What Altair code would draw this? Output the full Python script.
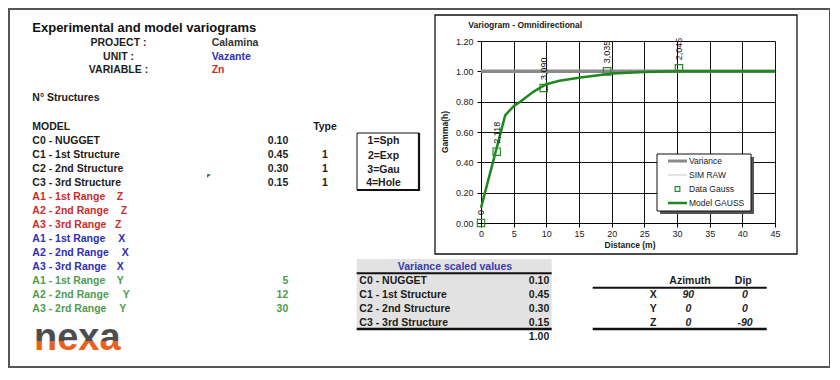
import altair as alt
import pandas as pd

FONT = "Liberation Sans"
OX, OY = 481, 41  # page position of the variogram plot area's top-left corner

# ---------------- variogram data ----------------
lag_m = [0.0, 2.4, 9.6, 19.3, 30.3]
gamma_exp = [0.00, 0.47, 0.89, 1.00, 1.02]
pair_counts = ["0", "2,118", "3,090", "3,035", "2,045"]

model_lag = [0, 3.7, 5, 6, 8, 10, 12, 15, 20, 25, 30, 45]
model_gamma = [0.10, 0.71, 0.77, 0.80, 0.865, 0.915, 0.938, 0.958, 0.985, 0.996, 1.00, 1.00]

variance_sill = 1.00
variance_span = [0, 45]

x_ticks = [0, 5, 10, 15, 20, 25, 30, 35, 40, 45]
y_ticks = [0.0, 0.2, 0.4, 0.6, 0.8, 1.0, 1.2]

chart_title = "Variogram - Omnidirectional"
x_title = "Distance (m)"
y_title = "Gamma(h)"
legend_items = ["Variance", "SIM RAW", "Data Gauss", "Model GAUSS"]

# ---------------- sheet content ----------------
sheet_title = "Experimental and model variograms"
meta_labels = ["PROJECT :", "UNIT :", "VARIABLE :"]
meta_values = ["Calamina", "Vazante", "Zn"]
structures_label = "N° Structures"
model_header = "MODEL"
type_header = "Type"
model_rows = ["C0 - NUGGET", "C1 - 1st Structure", "C2 - 2nd Structure", "C3 - 3rd Structure"]
sills = ["0.10", "0.45", "0.30", "0.15"]
types = ["", "1", "1", "1"]
range_labels = ["A1 - 1st Range", "A2 - 2nd Range", "A3 - 3rd Range",
                "A1 - 1st Range", "A2 - 2nd Range", "A3 - 3rd Range",
                "A1 - 1st Range", "A2 - 2nd Range", "A3 - 2rd Range"]
range_axes = ["Z", "Z", "Z", "X", "X", "X", "Y", "Y", "Y"]
range_values = ["", "", "", "", "", "", "5", "12", "30"]
type_legend = ["1=Sph", "2=Exp", "3=Gau", "4=Hole"]
scaled_header = "Variance scaled values"
scaled_values = ["0.10", "0.45", "0.30", "0.15"]
scaled_total = "1.00"
orient_header = ["Azimuth", "Dip"]
orient_axes = ["X", "Y", "Z"]
azimuths = ["90", "0", "0"]
dips = ["0", "0", "-90"]
logo_text = "nexa"

# ---------------- styles / layout ----------------
DARK = "#1c1c1c"
RED = "#cf2b2b"
BLUE = "#2e2eb8"
GREEN = "#4e9c4e"
AXIS_COLOR = {"Z": RED, "X": BLUE, "Y": GREEN}
ROW_Y = [127 + 14 * i for i in range(14)]
LEFT_X = 32.3
AXIS_LETTER_X = [116.7, 120.7, 115.0, 118.3, 121.7, 116.7, 116.7, 122.7, 119.3]
TXT = 10.5


def pix(rows):
    df = pd.DataFrame(rows)
    for c in ["x", "x2"]:
        if c in df:
            df[c] = df[c] - OX
    for c in ["y", "y2"]:
        if c in df:
            df[c] = df[c] - OY
    return df


def text_layer(rows, align="left", weight="bold", style="normal", angle=0, baseline="middle"):
    df = pix(rows)
    return alt.Chart(df).mark_text(
        align=align, baseline=baseline, fontWeight=weight, fontStyle=style,
        font=FONT, angle=angle
    ).encode(
        x=alt.X("x:Q", scale=None, axis=None),
        y=alt.Y("y:Q", scale=None, axis=None),
        text="t:N",
        color=alt.Color("c:N", scale=None, legend=None),
        size=alt.Size("s:Q", scale=None, legend=None),
    )


def rect_layer(rows, fill="none", stroke=None, sw=1, opacity=1):
    df = pix(rows)
    kw = dict(fill=fill, strokeWidth=sw, fillOpacity=opacity)
    if stroke:
        kw["stroke"] = stroke
    return alt.Chart(df).mark_rect(**kw).encode(
        x=alt.X("x:Q", scale=None, axis=None),
        x2="x2:Q",
        y=alt.Y("y:Q", scale=None, axis=None),
        y2="y2:Q",
    )


def seg_layer(rows, color, sw):
    df = pix(rows)
    return alt.Chart(df).mark_rule(color=color, strokeWidth=sw).encode(
        x=alt.X("x:Q", scale=None, axis=None),
        x2="x2:Q",
        y=alt.Y("y:Q", scale=None, axis=None),
        y2="y2:Q",
    )


layers = []

# frames and boxes
layers.append(rect_layer([{"x": 9, "x2": 830, "y": 9, "y2": 367}], stroke="#555", sw=2))
layers.append(rect_layer([{"x": 435, "x2": 797, "y": 15, "y2": 254}], stroke="#111", sw=1.3))
layers.append(rect_layer([{"x": 356.7, "x2": 551.7, "y": 259, "y2": 329}], fill="#e2e2e2"))
layers.append(rect_layer([{"x": 357, "x2": 419, "y": 133, "y2": 190}], stroke="#111", sw=1))
layers.append(seg_layer([{"x": 419, "x2": 419, "y": 133, "y2": 190.5},
                         {"x": 357, "x2": 420, "y": 190, "y2": 190}], "#111", 2.2))

# ---------------- variogram (real scales) ----------------
XS = alt.Scale(domain=[0, 45], nice=False, zero=False)
YS = alt.Scale(domain=[0, 1.2], nice=False, zero=False)
XAX = alt.Axis(values=x_ticks, title=None, grid=True, gridColor="#111", gridWidth=1,
               domainColor="#000", tickColor="#000", tickSize=4, labelFont=FONT,
               labelFontSize=9, labelColor="#222", labelPadding=2, format="d",
               labelFlush=False, labelOverlap=False)
YAX = alt.Axis(values=y_ticks, title=None, grid=True, gridColor="#111", gridWidth=1,
               domainColor="#000", tickColor="#000", tickSize=4, labelFont=FONT,
               labelFontSize=9, labelColor="#222", labelPadding=4, format=".2f",
               labelFlush=False, labelOverlap=False)

var_df = pd.DataFrame({"x0": [variance_span[0]], "x1": [variance_span[1]], "v": [variance_sill]})
layers.append(alt.Chart(var_df).mark_rule(color="#8a8a8a", strokeWidth=3.5).encode(
    x=alt.X("x0:Q", scale=XS, axis=XAX), x2="x1:Q",
    y=alt.Y("v:Q", scale=YS, axis=YAX)))

model_df = pd.DataFrame({"h": model_lag, "g": model_gamma})
layers.append(alt.Chart(model_df).mark_line(color="#1f871f", strokeWidth=2.5).encode(
    x=alt.X("h:Q", scale=XS, axis=XAX), y=alt.Y("g:Q", scale=YS, axis=YAX)))

exp_df = pd.DataFrame({"h": lag_m, "g": gamma_exp, "n": pair_counts})
layers.append(alt.Chart(exp_df).mark_point(shape="square", filled=False, color="#2a8a2a",
                                           size=55, strokeWidth=1.2, opacity=1).encode(
    x=alt.X("h:Q", scale=XS, axis=XAX), y=alt.Y("g:Q", scale=YS, axis=YAX)))
layers.append(alt.Chart(exp_df).mark_text(angle=270, align="left", baseline="middle", dx=8,
                                          font=FONT, fontSize=9, color="#111").encode(
    x=alt.X("h:Q", scale=XS, axis=XAX), y=alt.Y("g:Q", scale=YS, axis=YAX), text="n:N"))

# legend
layers.append(rect_layer([{"x": 660, "x2": 754, "y": 157, "y2": 214}], fill="#555"))
layers.append(rect_layer([{"x": 657, "x2": 751, "y": 154, "y2": 211}], fill="white", stroke="#111", sw=1))
LEG_Y = [161, 175, 189, 203]
layers.append(seg_layer([{"x": 668, "x2": 687, "y": LEG_Y[0], "y2": LEG_Y[0]}], "#8a8a8a", 3))
layers.append(seg_layer([{"x": 668, "x2": 687, "y": LEG_Y[1], "y2": LEG_Y[1]}], "#c8c8c8", 1))
layers.append(seg_layer([{"x": 668, "x2": 687, "y": LEG_Y[3], "y2": LEG_Y[3]}], "#1f871f", 2.5))
sq = pix([{"x": 677.5, "y": LEG_Y[2]}])
layers.append(alt.Chart(sq).mark_point(shape="square", filled=False, color="#2a8a2a",
                                       size=22, strokeWidth=1.2, opacity=1).encode(
    x=alt.X("x:Q", scale=None, axis=None), y=alt.Y("y:Q", scale=None, axis=None)))
layers.append(text_layer([{"t": t, "x": 689, "y": y, "c": "#1a1a1a", "s": 8.5}
                          for t, y in zip(legend_items, LEG_Y)], weight="normal"))

# table lines
layers.append(seg_layer([{"x": 356.7, "x2": 551.7, "y": 273.3, "y2": 273.3},
                         {"x": 592.7, "x2": 766.7, "y": 287.7, "y2": 287.7}], "#111", 2))
layers.append(seg_layer([{"x": 356.7, "x2": 551.7, "y": 329, "y2": 329},
                         {"x": 592.7, "x2": 766.7, "y": 329, "y2": 329}], "#111", 2.6))

# comment marker
cm = pix([{"x": 209, "y": 176}])
layers.append(alt.Chart(cm).mark_point(shape="M-1,-1L1,-1L-1,1Z", filled=True, color="#2d5e2d",
                                       size=14, opacity=1).encode(
    x=alt.X("x:Q", scale=None, axis=None), y=alt.Y("y:Q", scale=None, axis=None)))

# ---------------- texts ----------------
left_bold = [{"t": sheet_title, "x": LEFT_X, "y": 28.3, "c": "#111", "s": 13},
             {"t": structures_label, "x": LEFT_X, "y": 98.3, "c": DARK, "s": TXT},
             {"t": model_header, "x": LEFT_X, "y": ROW_Y[0], "c": DARK, "s": TXT},
             {"t": chart_title, "x": 468.3, "y": 25, "c": "#1a1a1a", "s": 8.5}]
for i, v in enumerate(meta_values):
    left_bold.append({"t": v, "x": 211.7, "y": [43.3, 56.7, 70][i],
                      "c": ["#333", BLUE, RED][i], "s": TXT})
for i, r in enumerate(model_rows):
    left_bold.append({"t": r, "x": LEFT_X, "y": ROW_Y[1 + i], "c": DARK, "s": TXT})
for i, r in enumerate(range_labels):
    col = AXIS_COLOR[range_axes[i]]
    left_bold.append({"t": r, "x": LEFT_X, "y": ROW_Y[5 + i], "c": col, "s": TXT})
    left_bold.append({"t": range_axes[i], "x": AXIS_LETTER_X[i], "y": ROW_Y[5 + i], "c": col, "s": TXT})
for i, r in enumerate(model_rows):
    left_bold.append({"t": r, "x": 359.3, "y": [281, 295, 309, 322.7][i], "c": DARK, "s": TXT})
layers.append(text_layer(left_bold))

center_bold = [{"t": type_header, "x": 325, "y": ROW_Y[0], "c": DARK, "s": TXT},
               {"t": scaled_header, "x": 455, "y": 266.7, "c": "#3b3bb0", "s": TXT},
               {"t": orient_header[0], "x": 690, "y": 281, "c": DARK, "s": TXT},
               {"t": orient_header[1], "x": 743.3, "y": 281, "c": DARK, "s": TXT},
               {"t": x_title, "x": 630, "y": 244.7, "c": "#1a1a1a", "s": 8.5}]
for i, m in enumerate(meta_labels):
    center_bold.append({"t": m, "x": 118.5, "y": [43.3, 56.7, 70][i], "c": DARK, "s": TXT})
for i, t in enumerate(types):
    if t:
        center_bold.append({"t": t, "x": 325, "y": ROW_Y[1 + i], "c": DARK, "s": TXT})
for i, t in enumerate(type_legend):
    center_bold.append({"t": t, "x": 383.5, "y": [141, 155.7, 170, 183.3][i], "c": DARK, "s": TXT})
for i, a in enumerate(orient_axes):
    center_bold.append({"t": a, "x": 653.3, "y": [295, 309, 322.7][i], "c": DARK, "s": TXT})
layers.append(text_layer(center_bold, align="center"))

right_bold = []
for i, s in enumerate(sills):
    right_bold.append({"t": s, "x": 288.3, "y": ROW_Y[1 + i], "c": DARK, "s": TXT})
for i, v in enumerate(range_values):
    if v:
        right_bold.append({"t": v, "x": 288.3, "y": ROW_Y[5 + i], "c": GREEN, "s": TXT})
for i, s in enumerate(scaled_values):
    right_bold.append({"t": s, "x": 549.3, "y": [281, 295, 309, 322.7][i], "c": DARK, "s": TXT})
right_bold.append({"t": scaled_total, "x": 549.3, "y": 336.7, "c": DARK, "s": TXT})
layers.append(text_layer(right_bold, align="right"))

italic = []
for i in range(3):
    italic.append({"t": azimuths[i], "x": 688.3, "y": [295, 309, 322.7][i], "c": DARK, "s": TXT})
    italic.append({"t": dips[i], "x": 745, "y": [295, 309, 322.7][i], "c": DARK, "s": TXT})
layers.append(text_layer(italic, align="center", style="italic"))

layers.append(text_layer([{"t": y_title, "x": 445, "y": 132, "c": "#1a1a1a", "s": 8.5}],
                         align="center", angle=270))

# logo with two-tone gradient
logo_fill = alt.LinearGradient(
    gradient="linear", x1=0, y1=0, x2=0, y2=1,
    stops=[alt.GradientStop(offset=0, color="#4d4d4f"),
           alt.GradientStop(offset=0.6, color="#4d4d4f"),
           alt.GradientStop(offset=0.6, color="#e8621e"),
           alt.GradientStop(offset=1, color="#e8621e")])
logo_df = pix([{"t": logo_text, "x": 34, "y": 350}])
layers.append(alt.Chart(logo_df).mark_text(align="left", baseline="alphabetic", font=FONT,
                                           fontWeight="bold", fontSize=38, fill=logo_fill).encode(
    x=alt.X("x:Q", scale=None, axis=None), y=alt.Y("y:Q", scale=None, axis=None), text="t:N"))

chart = alt.layer(*layers).properties(
    width=294, height=182,
    padding={"left": 473, "top": 33, "right": 55, "bottom": 145},
    autosize=alt.AutoSizeParams(type="none"),
    background="white",
).configure_view(stroke=None)

chart.save("out.html", embed_options={"renderer": "svg", "actions": False})
